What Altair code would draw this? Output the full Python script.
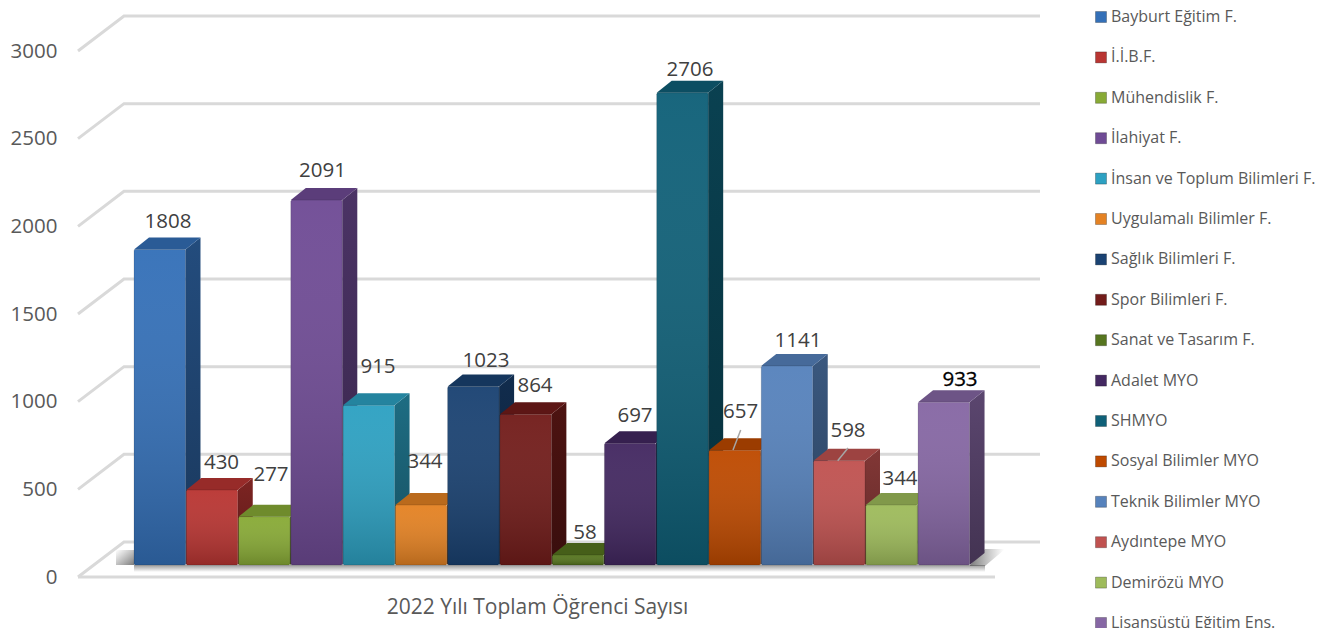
import altair as alt
import pandas as pd

categories = ["Bayburt Eğitim F.", "İ.İ.B.F.", "Mühendislik F.", "İlahiyat F.",
              "İnsan ve Toplum Bilimleri F.", "Uygulamalı Bilimler F.", "Sağlık Bilimleri F.",
              "Spor Bilimleri F.", "Sanat ve Tasarım F.", "Adalet MYO", "SHMYO",
              "Sosyal Bilimler MYO", "Teknik Bilimler MYO", "Aydıntepe MYO",
              "Demirözü MYO", "Lisansüstü Eğitim Ens."]
values = [1808, 430, 277, 2091, 915, 344, 1023, 864, 58, 697, 2706, 657, 1141, 598, 344, 933]
colors = ["#3470B8", "#B93532", "#88AA36", "#6F4B95", "#2DA1C2", "#E48223", "#1A4272", "#721C1A",
          "#56751F", "#432861", "#0F6078", "#BE4A00", "#5682BC", "#C05250", "#9EBB5B", "#8667A4"]
label_x_px = [168, 221.5, 271, 322.5, 378, 425, 486, 535, 585, 635, 690, 740.7, 798, 848, 900, 960]
label_y_px = [222, 463, 475, 171, 367, 462, 361, 386, 533, 416, 70, 412, 341, 431, 479, 380]
grid_values = [0, 500, 1000, 1500, 2000, 2500, 3000]
chart_title = "2022 Yılı Toplam Öğrenci Sayısı"

LEFT, WIDTH, HEIGHT, BOTTOM = 57, 1256, 582, 38
PITCH, K, GK = 52.27, 0.1745, 0.17533
X0 = 134.0; Y0 = 565.0; GY0 = 577.0
BAR_W = 0.985
DX = 15 / PITCH
DV = 12 / K
GRID_DV = 35 / GK

def ux(px):
    return (px - X0) / PITCH

def vy(py):
    return (Y0 - py) / K

def shade(c, f):
    r, g, b = int(c[1:3], 16), int(c[3:5], 16), int(c[5:7], 16)
    return "#%02x%02x%02x" % (int(r * f), int(g * f), int(b * f))

x_scale = alt.Scale(domain=[ux(8 + LEFT), ux(8 + LEFT + WIDTH)], nice=False, zero=False)
y_scale = alt.Scale(domain=[vy(8 + HEIGHT), vy(8)], nice=False, zero=False)
g_scale = alt.Scale(domain=[(GY0 - 8 - HEIGHT) / GK, (GY0 - 8) / GK], nice=False, zero=False)
X = lambda f: alt.X(f, type="quantitative", scale=x_scale, axis=None)
Y = lambda f: alt.Y(f, type="quantitative", scale=y_scale, axis=None)

FONT = "Open Sans"

# ---------- walls
grid_rows = []
for v in grid_values:
    for px, dv in [(78, 0), (124, GRID_DV), (1040, GRID_DV)]:
        grid_rows.append({"x": ux(px), "v": v + dv, "g": str(v)})
grid_rows += [{"x": ux(78), "v": 0, "g": "floor"}, {"x": ux(995), "v": 0, "g": "floor"}]

x_axis = alt.Axis(title=chart_title, labels=False, ticks=False, domain=False, grid=False,
                  titleFont=FONT, titleFontSize=21, titleFontWeight="normal", titleColor="#595959",
                  titleX=472, titleY=17, titleBaseline="middle", titleAlign="center", titleAnchor="start")
y_axis = alt.Axis(values=grid_values, title=None, ticks=False, domain=False, grid=False, format="d",
                  labelFont=FONT, labelFontSize=20.5, labelColor="#595959", labelPadding=8)

grid = alt.Chart(pd.DataFrame(grid_rows)).mark_line(color="#d9d9d9", strokeWidth=3).encode(
    x=alt.X("x:Q", scale=x_scale, axis=x_axis),
    y=alt.Y("v:Q", scale=g_scale, axis=y_axis),
    detail="g:N",
)

# ---------- floor shadows
transparent = "rgba(110,110,110,0)"
dark = "rgba(90,90,90,0.8)"
def grad(x1, y1, x2, y2, a, b):
    return alt.Gradient(gradient="linear", x1=x1, y1=y1, x2=x2, y2=y2,
                        stops=[alt.GradientStop(color=a, offset=0), alt.GradientStop(color=b, offset=1)])

shadow_left = alt.Chart(pd.DataFrame([{"x": ux(116), "x2": ux(134), "y": vy(550), "y2": vy(565)}])).mark_rect(
    fill=grad(0, 0, 1, 1, transparent, dark)).encode(x=X("x"), x2="x2:Q", y=Y("y"), y2="y2:Q")
shadow_bottom = alt.Chart(pd.DataFrame([{"x": ux(134), "x2": ux(985), "y": vy(565), "y2": vy(572)}])).mark_rect(
    fill=grad(0, 0, 0, 1, "rgba(120,120,120,0.75)", "rgba(120,120,120,0)")).encode(x=X("x"), x2="x2:Q", y=Y("y"), y2="y2:Q")
shadow_right = alt.Chart(pd.DataFrame([
    {"x": ux(970), "y": vy(565), "y2": vy(566)},
    {"x": ux(985), "y": vy(549), "y2": vy(566)},
    {"x": ux(1004), "y": vy(549), "y2": vy(550)},
])).mark_area(orient="vertical", fill=grad(0, 0, 1, 0, dark, "rgba(110,110,110,0)")).encode(
    x=X("x"), y=Y("y"), y2="y2:Q")

# ---------- bars
front = pd.DataFrame({
    "cat": categories,
    "x": list(range(len(values))),
    "x2": [i + BAR_W for i in range(len(values))],
    "v": values,
    "base": [0] * len(values),
})

face_layers = []
for i, (v, col) in enumerate(zip(values, colors)):
    x1, x2 = i + BAR_W, i + BAR_W + DX
    side = pd.DataFrame([{"x": x1, "y": v, "y2": 0}, {"x": x2, "y": v + DV, "y2": DV}])
    top = pd.DataFrame([
        {"x": i, "y": v, "y2": v},
        {"x": i + DX, "y": v + DV, "y2": v},
        {"x": i + BAR_W, "y": v + DV, "y2": v},
        {"x": i + BAR_W + DX, "y": v + DV, "y2": v + DV},
    ])
    face_layers.append(alt.Chart(side).mark_area(
        orient="vertical",
        fill=grad(0, 0, 0, 1, shade(col, 0.68), shade(col, 0.5)),
    ).encode(x=X("x"), y=Y("y"), y2="y2:Q"))
    face_layers.append(alt.Chart(top).mark_area(orient="vertical", fill=shade(col, 0.82)).encode(
        x=X("x"), y=Y("y"), y2="y2:Q"))

legend = alt.Legend(title=None, orient="none", legendX=1100 - 8 - LEFT - 7, legendY=1,
                    symbolType="square", symbolSize=121, symbolStrokeColor="#00000040", symbolStrokeWidth=1,
                    labelFont=FONT, labelFontSize=16, labelColor="#595959", labelLimit=320,
                    rowPadding=24.4, labelOffset=2, columns=1, padding=0)
front_layer = alt.Chart(front).mark_bar(cornerRadius=1.5).encode(
    x=X("x"), x2="x2:Q", y=Y("v"), y2="base:Q",
    color=alt.Color("cat:N", sort=None, scale=alt.Scale(domain=categories, range=colors), legend=legend),
)
gloss = alt.Chart(front).mark_bar(
    cornerRadius=1.5,
    fill=grad(0, 0, 0, 1, "rgba(255,255,255,0.04)", "rgba(0,0,0,0.2)"),
    stroke="#000000", strokeOpacity=0.13, strokeWidth=1,
).encode(x=X("x"), x2="x2:Q", y=Y("v"), y2="base:Q")

# ---------- data labels
labels = pd.DataFrame({"x": [ux(p) for p in label_x_px], "y": [vy(p) for p in label_y_px],
                       "t": values, "cat": categories})
text = alt.Chart(labels[labels.cat != categories[-1]]).mark_text(
    font=FONT, fontSize=20.5, color="#404040", baseline="middle", align="center"
).encode(x=X("x"), y=Y("y"), text="t:Q")
text_last = alt.Chart(labels[labels.cat == categories[-1]]).mark_text(
    font=FONT, fontSize=20.5, color="#000000", stroke="#000000", strokeWidth=0.3, baseline="middle", align="center"
).encode(x=X("x"), y=Y("y"), text="t:Q")

leaders = alt.Chart(pd.DataFrame([
    {"x": ux(740.7), "x2": ux(733), "y": vy(430), "y2": vy(450)},
    {"x": ux(848), "x2": ux(837.7), "y": vy(448), "y2": vy(460.7)},
])).mark_rule(color="#a6a6a6", strokeWidth=1.5).encode(x=X("x"), x2="x2:Q", y=Y("y"), y2="y2:Q")

chart = alt.layer(
    grid, shadow_left, shadow_bottom, shadow_right, *face_layers, front_layer, gloss, leaders, text, text_last
).resolve_scale(y="independent").resolve_axis(x="independent").properties(
    width=WIDTH, height=HEIGHT, padding={"left": LEFT, "top": 0, "right": 0, "bottom": BOTTOM},
    autosize=alt.AutoSizeParams(type="none"), background="white",
).configure_view(stroke=None)

chart.save("out.html", embed_options={"renderer": "svg", "actions": False})
